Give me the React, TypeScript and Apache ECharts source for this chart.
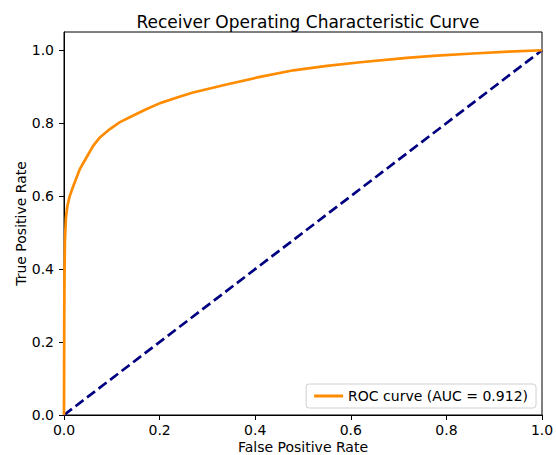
import React, { useEffect, useRef } from "react";
import * as echarts from "echarts";

const rocFpr = [0, 0.0005, 0.001, 0.002, 0.004, 0.007, 0.012, 0.0195, 0.033, 0.047, 0.061, 0.075, 0.096, 0.117, 0.145, 0.173, 0.201, 0.243, 0.27, 0.34, 0.41, 0.48, 0.55, 0.62, 0.717, 0.78, 0.856, 0.93, 1.0];
const rocTpr = [0, 0.25, 0.38, 0.48, 0.54, 0.573, 0.6, 0.628, 0.674, 0.706, 0.738, 0.761, 0.784, 0.803, 0.821, 0.839, 0.855, 0.873, 0.884, 0.906, 0.927, 0.945, 0.957, 0.967, 0.979, 0.985, 0.991, 0.996, 1.0];
const chanceX = [0, 1];
const chanceY = [0, 1];
const tickValues = [0, 0.2, 0.4, 0.6, 0.8, 1.0];
const rocLabel = "ROC curve (AUC = 0.912)";

const FONT = "DejaVu Sans";

export default function App() {
  const ref = useRef<HTMLDivElement>(null);
  useEffect(() => {
    document.body.style.margin = "0";
    document.body.style.overflow = "hidden";
    if (!ref.current) return;
    const chart = echarts.init(ref.current, null, { renderer: "svg", width: 556, height: 455 });
    const axisCommon = {
      type: "value" as const,
      nameLocation: "middle" as const,
      nameMoveOverlap: false,
      nameTextStyle: { fontFamily: FONT, fontSize: 14, lineHeight: 14, color: "#000" },
      axisLine: { show: true, onZero: false, lineStyle: { color: "#000", width: 1 } },
      axisTick: { show: true, inside: false, length: 5, lineStyle: { color: "#000" }, customValues: tickValues },
      axisLabel: {
        fontFamily: FONT,
        fontSize: 14,
        color: "#000",
        customValues: tickValues,
        formatter: (v: number) => v.toFixed(1),
      },
      splitLine: { show: false },
    };
    chart.setOption({
      animation: false,
      backgroundColor: "#fff",
      title: {
        text: "Receiver Operating Characteristic Curve",
        left: 303,
        top: 8,
        textAlign: "center",
        textStyle: { fontFamily: FONT, fontSize: 17, fontWeight: "normal", color: "#000" },
      },
      grid: {
        left: 64,
        right: 14,
        top: 32,
        bottom: 40,
        show: true,
        borderColor: "#000",
        borderWidth: 1,
        containLabel: false,
        outerBoundsMode: "none",
      },
      xAxis: {
        ...axisCommon,
        min: 0,
        max: 1,
        interval: 0.2,
        name: "False Positive Rate",
        nameGap: 25,
        axisLabel: { ...axisCommon.axisLabel, margin: 8 },
      },
      yAxis: {
        ...axisCommon,
        min: 0,
        max: 1.05,
        interval: 0.2,
        name: "True Positive Rate",
        nameGap: 36,
        axisLabel: { ...axisCommon.axisLabel, margin: 10 },
      },
      legend: {
        right: 20,
        bottom: 47,
        orient: "vertical",
        data: [rocLabel],
        icon: "rect",
        itemWidth: 29,
        itemHeight: 3,
        itemGap: 8,
        padding: [5, 8, 5, 8],
        borderColor: "#d0d0d0",
        borderWidth: 1,
        borderRadius: 3,
        backgroundColor: "#fff",
        textStyle: { fontFamily: FONT, fontSize: 14, color: "#000" },
      },
      series: [
        {
          name: rocLabel,
          type: "line",
          data: rocFpr.map((x, i) => [x, rocTpr[i]]),
          showSymbol: false,
          symbol: "none",
          lineStyle: { color: "#ff8c00", width: 2.7 },
          itemStyle: { color: "#ff8c00" },
          clip: false,
          z: 3,
        },
        {
          name: "chance",
          type: "line",
          data: chanceX.map((x, i) => [x, chanceY[i]]),
          showSymbol: false,
          symbol: "none",
          lineStyle: { color: "#000080", width: 2.7, type: [10, 4.5] },
          itemStyle: { color: "#000080" },
          z: 2,
        },
      ],
    });
    return () => chart.dispose();
  }, []);
  return <div ref={ref} style={{ width: 556, height: 455 }} />;
}
